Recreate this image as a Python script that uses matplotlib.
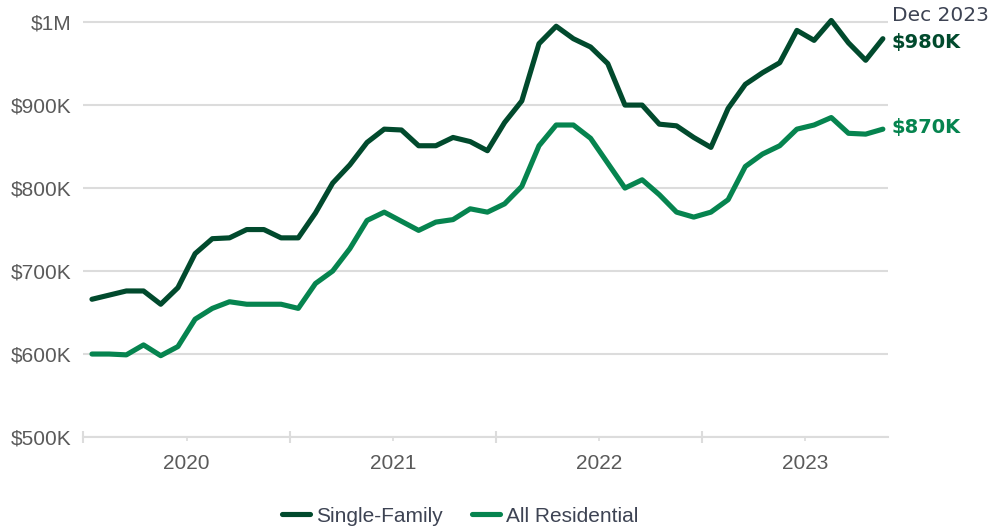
import matplotlib
matplotlib.use('Agg')
import matplotlib.pyplot as plt
import numpy as np

# monthly median prices ($K), 47 points ending Dec 2023
single_family = [666, 671, 676, 676, 660, 680, 721, 739, 740, 750, 750, 740,
                 740, 770, 806, 828, 855, 871, 870, 851, 851, 861, 856, 845,
                 879, 905, 974, 995, 980, 970, 950, 900, 900, 877, 875, 861,
                 849, 896, 925, 939, 951, 990, 978, 1002, 975, 954, 980]
all_residential = [600, 600, 599, 611, 598, 609, 642, 655, 663, 660, 660, 660,
                   655, 685, 700, 727, 761, 771, 760, 749, 759, 762, 775, 771,
                   781, 802, 851, 876, 876, 860, 830, 800, 810, 792, 771, 765,
                   771, 786, 826, 841, 851, 871, 876, 885, 866, 865, 871]
year_labels = ['2020', '2021', '2022', '2023']
y_ticks = [500, 600, 700, 800, 900, 1000]
y_labels = ['$500K', '$600K', '$700K', '$800K', '$900K', '$1M']
series_names = ['Single-Family', 'All Residential']
end_label = 'Dec 2023'
end_values = ['$980K', '$870K']

dark = '#014a2d'
green = '#06844f'
grid_c = '#dcdcdc'
tick_c = '#5a5a5a'
text_c = '#3d4353'

plt.rcParams['font.family'] = ['Liberation Sans', 'DejaVu Sans']

fig = plt.figure(figsize=(10.05, 5.31), dpi=100)
ax = fig.add_axes([0.0826, 0.177, 0.801, 0.797])

x = np.arange(len(single_family))
ax.plot(x, single_family, color=dark, lw=3.7, label=series_names[0],
        solid_joinstyle='round', solid_capstyle='round', clip_on=False, zorder=3)
ax.plot(x, all_residential, color=green, lw=3.7, label=series_names[1],
        solid_joinstyle='round', solid_capstyle='round', clip_on=False, zorder=3)

ax.set_xlim(-0.52, 46.3)
ax.set_ylim(500, 1010)

ax.set_yticks(y_ticks)
ax.set_yticklabels(y_labels)
ax.tick_params(axis='y', length=0, pad=8, labelsize=15, labelcolor=tick_c)
ax.grid(axis='y', color=grid_c, lw=1.5)
ax.set_axisbelow(True)

ax.set_xticks([5.5 + 12 * k for k in range(4)])
ax.set_xticklabels(year_labels)
ax.set_xticks([-0.5 + 12 * k for k in range(4)], minor=True)
ax.tick_params(axis='x', which='major', direction='out', length=3, width=1.2,
               color=grid_c, pad=9, labelsize=15, labelcolor=tick_c)
ax.tick_params(axis='x', which='minor', direction='inout', length=8, width=1.5,
               color=grid_c)

for s in ['top', 'right', 'left']:
    ax.spines[s].set_visible(False)
ax.spines['bottom'].set_color(grid_c)
ax.spines['bottom'].set_linewidth(1.5)

# end-of-series labels
last = len(x) - 1
ax.annotate(end_values[0], xy=(last, single_family[-1]), xytext=(6.5, -2.5),
            textcoords='offset points', va='center', ha='left', fontsize=14,
            fontweight='bold', color=dark, family='DejaVu Sans', annotation_clip=False)
ax.annotate(end_values[1], xy=(last, all_residential[-1]), xytext=(6.5, 1.5),
            textcoords='offset points', va='center', ha='left', fontsize=14,
            fontweight='bold', color=green, family='DejaVu Sans', annotation_clip=False)
ax.annotate(end_label, xy=(last, single_family[-1]), xytext=(6.5, 17),
            textcoords='offset points', va='center', ha='left', fontsize=14.5,
            color=text_c, family='DejaVu Sans', annotation_clip=False)

leg = fig.legend(loc='center', bbox_to_anchor=(0.458, 0.028), ncol=2, frameon=False,
                 fontsize=15, handlelength=1.35, handletextpad=0.3, columnspacing=1.4)
for t in leg.get_texts():
    t.set_color(text_c)

fig.savefig('out.png', dpi=100)
